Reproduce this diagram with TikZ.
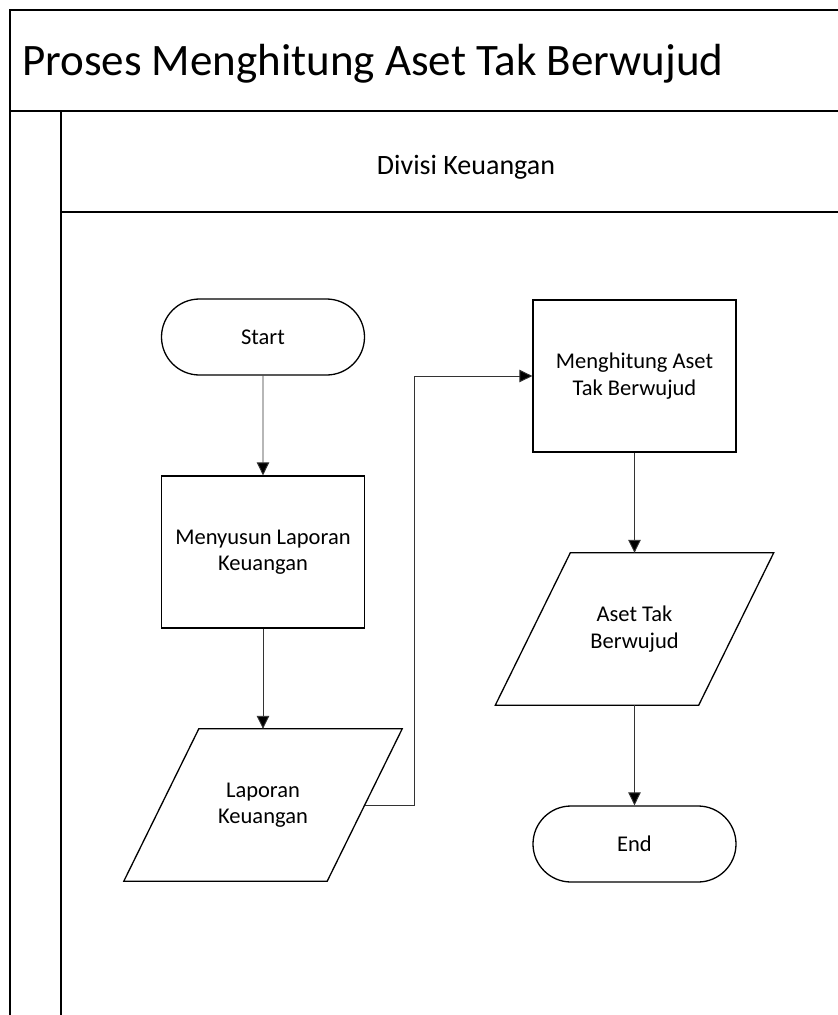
\documentclass[tikz,border=0pt]{standalone}
\usepackage{fontspec}
\setmainfont{Carlito}
\usetikzlibrary{arrows.meta,shapes.misc}
\newcommand\flowfont{\fontsize{22.5}{26.5}\selectfont}
\begin{document}
\begin{tikzpicture}[x=1pt,y=-1pt,
  frameline/.style={line width=1.8pt, black},
  shapeline/.style={line width=1.3pt, black},
  flow/.style={line width=0.9pt, black!80, -{Triangle[length=13pt,width=12.5pt,fill=black]}},
  terminal/.style={rounded rectangle, draw, shapeline, minimum width=203pt,
    minimum height=76pt, inner sep=0pt, font=\flowfont, align=center},
  process/.style={rectangle, draw, shapeline, minimum width=203pt,
    minimum height=152pt, inner sep=0pt, font=\flowfont, align=center},
  data/.style={rectangle, minimum width=203pt, minimum height=152pt,
    inner sep=0pt, font=\flowfont, align=center},
  slant/.style={shapeline, line join=miter}
]
\useasboundingbox (0,0) rectangle (838,1015);
\clip (0,0) rectangle (838,1015);
\fill[white] (0,0) rectangle (838,1015);

% pool and lane frame
\draw[frameline] (10,1030) -- (10,10) -- (850,10);
\draw[frameline] (10,111) -- (850,111);
\draw[frameline] (61,1030) -- (61,111);
\draw[frameline] (61,212) -- (850,212);

\node[anchor=base west, inner sep=0pt, font=\fontsize{45}{54}\selectfont] (title) at (22,75)
  {Proses Menghitung Aset Tak Berwujud};
\node[anchor=base, inner sep=0pt, font=\fontsize{28}{34}\selectfont] (lane) at (466,174)
  {Divisi Keuangan};

% flow nodes
\node[terminal] (start) at (263,337) {Start};
\node[process] (susun) at (263,552) {Menyusun Laporan\\Keuangan};
\node[data] (lap) at (263,805) {Laporan\\Keuangan};
\draw[slant] ([xshift=37.5pt]lap.north west) -- ([xshift=37.5pt]lap.north east)
  -- ([xshift=-37.5pt]lap.south east) -- ([xshift=-37.5pt]lap.south west) -- cycle;

\node[process] (hit) at (634.5,376) {Menghitung Aset\\Tak Berwujud};
\node[data] (aset) at (634.5,629) {Aset Tak\\Berwujud};
\draw[slant] ([xshift=37.5pt]aset.north west) -- ([xshift=37.5pt]aset.north east)
  -- ([xshift=-37.5pt]aset.south east) -- ([xshift=-37.5pt]aset.south west) -- cycle;
\node[terminal] (end) at (634.5,844) {End};

% connectors
\coordinate (bend) at (414,805);
\draw[flow] (start) -- (susun);
\draw[flow] (susun) -- (lap);
\draw[flow] (lap.east) -- (bend) |- (hit.west);
\draw[flow] (hit) -- (aset);
\draw[flow] (aset) -- (end);
\end{tikzpicture}
\end{document}
